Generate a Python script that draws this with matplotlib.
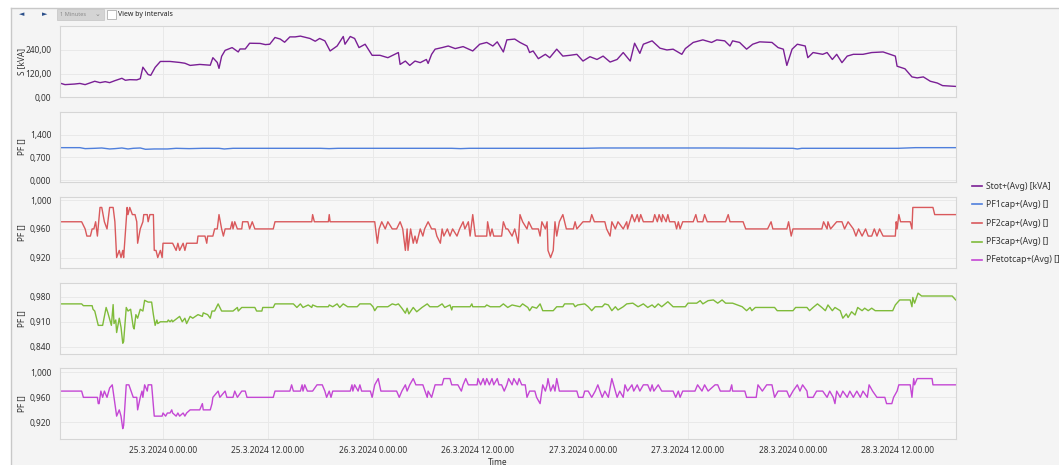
import pandas as pd
import numpy as np
import matplotlib
matplotlib.use("Agg")
import matplotlib.pyplot as plt
import matplotlib.dates as mdates
from matplotlib.ticker import FuncFormatter
from matplotlib.patches import Rectangle
from matplotlib.lines import Line2D

plt.rcParams['font.family'] = ['Noto Sans', 'DejaVu Sans']

# hours since 24.3.2024 12:00
start = pd.Timestamp("2024-03-24 12:00")

s_t = [0.2, 0.8, 1.9, 2.5, 3.1, 4.2, 4.8, 5.4, 5.9, 6.5, 7.3, 7.7, 8.2, 9.0, 9.4, 9.7, 10.3, 10.6,
       11.1, 11.7, 12.8, 13.9, 14.5, 15.1, 16.2, 16.8, 17.4, 17.7, 18.2, 18.4, 18.7, 19.1, 19.9,
       20.6, 20.8, 21.4, 21.9, 23.1, 23.7, 24.2, 24.8, 25.4, 25.9, 26.5, 27.1, 27.7, 28.8, 29.4,
       29.9, 30.5, 31.1, 31.9, 32.6, 32.8, 33.4, 33.9, 34.4, 35.1, 35.9, 36.8, 37.7, 38.9, 39.1,
       39.7, 40.2, 40.8, 41.4, 42.1, 42.3, 42.7, 43.1, 43.9, 44.6, 45.4, 46.3, 47.4, 48.2, 49.0,
       49.7, 50.2, 50.9, 51.3, 52.2, 52.8, 53.6, 53.9, 54.3, 54.9, 55.7, 56.2, 57.0, 57.7, 58.5,
       59.3, 60.0, 60.8, 61.6, 62.3, 63.1, 63.9, 64.6, 65.4, 65.9, 66.5, 66.9, 67.9, 68.8, 69.6,
       70.3, 71.3, 71.7, 72.6, 73.7, 74.7, 75.3, 76.2, 76.8, 77.1, 77.9, 78.7, 79.4, 80.2, 81.6,
       82.3, 82.9, 83.3, 83.9, 84.5, 85.4, 85.7, 86.3, 87.4, 87.9, 88.5, 89.0, 89.6, 90.2, 90.9,
       92.0, 93.0, 94.3, 95.1, 95.7, 95.9, 96.8, 97.6, 98.2, 98.9, 99.7, 100.5, 101.1, 102.6]
s_v = [72, 64, 67, 70, 64, 81, 74, 79, 74, 84, 96, 86, 89, 88, 94, 152, 115, 111,
       151, 181, 181, 176, 172, 161, 166, 164, 162, 200, 176, 146, 207, 237, 251,
       229, 244, 244, 273, 272, 266, 268, 302, 294, 278, 305, 305, 309, 297, 283,
       297, 285, 234, 259, 307, 268, 307, 297, 251, 268, 212, 212, 200, 226, 166,
       183, 161, 183, 175, 191, 171, 217, 243, 251, 259, 246, 256, 234, 268, 277,
       259, 280, 229, 290, 294, 277, 259, 226, 234, 195, 217, 200, 243, 208, 212,
       217, 183, 205, 191, 208, 178, 191, 226, 183, 273, 222, 268, 285, 248, 239,
       243, 217, 246, 277, 290, 277, 290, 285, 259, 285, 277, 243, 268, 280, 277,
       251, 243, 161, 243, 268, 259, 200, 226, 217, 226, 191, 217, 175, 208, 217,
       217, 226, 229, 217, 208, 157, 144, 103, 98, 103, 81, 72, 59, 55]

pf1_t = [0.2, 2.5, 3.1, 4.2, 5.0, 5.9, 6.5, 7.3, 8.0, 8.6, 9.4, 10.0, 11.0, 12.5, 13.5, 15.0,
         16.5, 18.4, 19.0, 20.0, 30.0, 31.0, 32.0, 45.0, 46.0, 47.0, 60.0, 62.0, 75.0, 84.0,
         84.5, 85.0, 96.0, 98.0, 102.6]
pf1_v = [1.0, 1.0, 0.97, 0.98, 0.99, 0.96, 0.97, 0.99, 0.96, 0.98, 0.99, 0.95, 0.96, 0.96,
         0.98, 0.97, 0.98, 0.98, 0.96, 0.98, 0.98, 0.97, 0.98, 0.98, 0.97, 0.98, 0.98, 0.99,
         0.99, 0.98, 0.96, 0.98, 0.98, 1.0, 1.0]

pf2_t = [0.1, 2.7, 3.1, 3.3, 3.7, 3.9, 4.1, 4.3, 4.5, 4.8, 5.0, 5.3, 5.6, 5.9, 6.3, 6.5, 6.7,
         7.0, 7.2, 7.4, 7.5, 7.9, 8.0, 8.2, 8.5, 8.8, 9.0, 9.1, 9.4, 9.7, 9.8, 10.2, 10.3, 10.5,
         10.9, 11.0, 11.2, 11.4, 11.7, 11.9, 12.0, 13.1, 13.5, 13.7, 13.9, 14.3, 14.5, 14.7,
         15.9, 16.0, 16.8, 17.0, 17.1, 17.7, 17.9, 18.2, 18.4, 18.7, 18.9, 19.1, 19.7, 19.9,
         20.0, 20.2, 20.5, 21.0, 21.1, 21.7, 21.9, 22.2, 22.5, 24.6, 24.8, 29.0, 29.1, 29.3,
         30.9, 31.0, 31.1, 36.2, 36.5, 36.7, 37.0, 37.4, 37.7, 38.2, 38.7, 39.1, 39.4, 39.7,
         39.9, 40.0, 40.3, 40.6, 40.8, 41.0, 41.4, 41.7, 41.9, 42.3, 42.7, 43.1, 43.3, 43.7,
         43.9, 44.1, 44.5, 44.8, 45.1, 45.6, 45.9, 46.3, 46.5, 46.9, 47.1, 47.4, 47.7, 49.0,
         49.1, 49.4, 49.6, 49.8, 50.7, 50.9, 51.2, 51.4, 51.9, 52.2, 52.6, 52.8, 53.1, 53.6,
         53.8, 54.2, 54.9, 55.1, 55.3, 55.7, 55.9, 56.0, 56.3, 56.6, 56.8, 57.0, 57.3, 57.7,
         58.1, 58.9, 59.1, 59.3, 60.0, 60.8, 61.0, 61.3, 62.5, 62.7, 63.1, 63.3, 63.7, 64.0,
         64.6, 65.0, 65.1, 65.6, 65.9, 66.2, 66.4, 66.6, 66.9, 68.0, 68.2, 68.5, 68.7, 69.0,
         69.1, 69.5, 69.7, 69.9, 70.5, 70.7, 70.9, 71.1, 71.4, 72.6, 72.9, 73.1, 73.7, 73.9,
         74.2, 76.3, 76.6, 76.8, 78.3, 78.6, 81.1, 81.5, 81.7, 83.3, 83.5, 83.8, 84.0, 87.3,
         87.5, 87.9, 88.0, 88.3, 89.0, 89.6, 89.9, 90.3, 90.9, 91.2, 91.5, 91.9, 92.3, 92.6,
         93.0, 93.3, 93.6, 93.9, 94.3, 95.7, 95.8, 95.9, 96.1, 96.3, 97.4, 97.6, 97.7, 100.0,
         100.2, 102.6]
pf2_v = [0.97, 0.97, 0.96, 0.95, 0.95, 0.96, 0.96, 0.97, 0.95, 0.99, 0.99, 0.97, 0.96, 0.99,
         0.99, 0.97, 0.92, 0.93, 0.92, 0.93, 0.92, 0.99, 0.98, 0.99, 0.98, 0.98, 0.97, 0.94,
         0.96, 0.97, 0.98, 0.98, 0.97, 0.98, 0.98, 0.93, 0.93, 0.92, 0.93, 0.92, 0.94, 0.94,
         0.93, 0.94, 0.93, 0.94, 0.93, 0.94, 0.94, 0.95, 0.95, 0.94, 0.95, 0.95, 0.96, 0.96,
         0.98, 0.96, 0.95, 0.96, 0.96, 0.97, 0.96, 0.97, 0.96, 0.96, 0.97, 0.97, 0.96, 0.97,
         0.96, 0.96, 0.97, 0.97, 0.98, 0.97, 0.97, 0.98, 0.97, 0.97, 0.94, 0.96, 0.97, 0.96,
         0.97, 0.96, 0.96, 0.97, 0.96, 0.93, 0.96, 0.93, 0.96, 0.94, 0.95, 0.94, 0.96, 0.95,
         0.96, 0.97, 0.96, 0.96, 0.95, 0.94, 0.96, 0.95, 0.96, 0.95, 0.96, 0.95, 0.96, 0.97,
         0.96, 0.97, 0.95, 0.98, 0.95, 0.95, 0.97, 0.95, 0.96, 0.95, 0.95, 0.97, 0.96, 0.96,
         0.95, 0.96, 0.94, 0.98, 0.97, 0.96, 0.97, 0.96, 0.96, 0.95, 0.97, 0.96, 0.97, 0.93,
         0.92, 0.93, 0.97, 0.95, 0.97, 0.98, 0.96, 0.96, 0.97, 0.96, 0.97, 0.97, 0.98, 0.97,
         0.97, 0.96, 0.95, 0.97, 0.96, 0.97, 0.96, 0.97, 0.96, 0.98, 0.97, 0.98, 0.97, 0.98,
         0.97, 0.97, 0.98, 0.97, 0.98, 0.97, 0.98, 0.97, 0.98, 0.97, 0.97, 0.96, 0.97, 0.96,
         0.97, 0.97, 0.98, 0.97, 0.97, 0.98, 0.97, 0.97, 0.98, 0.97, 0.97, 0.96, 0.96, 0.97,
         0.96, 0.96, 0.97, 0.95, 0.96, 0.96, 0.97, 0.96, 0.97, 0.96, 0.97, 0.97, 0.96, 0.97,
         0.96, 0.95, 0.96, 0.95, 0.96, 0.95, 0.95, 0.96, 0.95, 0.96, 0.95, 0.95, 0.97, 0.96,
         0.98, 0.97, 0.97, 0.96, 0.99, 0.99, 0.98, 0.98]

pf3_t = [0.1, 2.7, 2.9, 3.9, 4.0, 4.2, 4.6, 5.1, 5.5, 5.7, 6.1, 6.3, 6.4, 6.6, 6.7, 7.0, 7.2,
         7.4, 7.5, 7.8, 8.0, 8.3, 8.6, 8.7, 8.9, 9.1, 9.4, 9.7, 9.9, 10.3, 10.7, 10.9, 11.1,
         11.3, 11.4, 11.7, 12.5, 12.6, 12.8, 13.0, 13.1, 13.9, 14.2, 14.5, 14.7, 15.1, 15.4,
         15.7, 16.0, 16.5, 16.6, 17.1, 17.4, 17.6, 17.9, 18.3, 18.7, 20.0, 20.5, 20.6, 21.0,
         22.5, 22.7, 23.3, 23.4, 24.6, 24.8, 26.9, 27.3, 27.7, 28.0, 28.6, 29.0, 29.1, 29.6,
         30.9, 31.0, 31.4, 31.9, 32.2, 32.6, 33.1, 34.2, 34.5, 35.7, 36.0, 36.2, 36.5, 37.7,
         38.2, 38.6, 38.9, 39.3, 39.7, 39.9, 40.1, 40.6, 41.0, 41.6, 42.2, 42.5, 43.4, 43.9,
         44.2, 44.8, 45.0, 45.1, 47.1, 47.3, 47.4, 48.8, 49.0, 49.4, 50.5, 50.9, 51.4, 51.9,
         52.8, 53.1, 53.7, 53.9, 54.2, 54.7, 55.1, 55.4, 56.6, 57.0, 57.7, 57.9, 58.9, 59.1,
         59.4, 60.2, 60.6, 61.0, 61.4, 62.2, 62.5, 62.9, 63.3, 63.7, 64.0, 64.6, 65.0, 65.7,
         66.3, 66.9, 67.4, 67.9, 68.2, 68.6, 69.0, 69.7, 70.3, 71.7, 72.0, 73.0, 73.4, 73.7,
         74.3, 74.9, 75.4, 75.9, 76.3, 77.1, 78.2, 78.7, 79.1, 79.3, 79.7, 81.9, 82.2, 84.0,
         84.3, 85.6, 85.9, 86.3, 86.8, 87.3, 87.7, 88.0, 88.5, 88.8, 89.4, 89.7, 90.1, 90.3,
         90.7, 91.1, 91.4, 91.9, 92.2, 92.6, 93.0, 93.4, 95.4, 95.7, 96.2, 97.4, 97.6, 97.7,
         97.9, 98.3, 98.7, 102.2, 102.6]
pf3_v = [0.96, 0.96, 0.955, 0.955, 0.945, 0.94, 0.90, 0.90, 0.95, 0.935, 0.90, 0.958, 0.905,
         0.915, 0.88, 0.92, 0.895, 0.85, 0.855, 0.95, 0.94, 0.945, 0.895, 0.89, 0.93, 0.92,
         0.945, 0.94, 0.97, 0.965, 0.965, 0.93, 0.90, 0.915, 0.905, 0.91, 0.91, 0.915, 0.91,
         0.915, 0.91, 0.925, 0.91, 0.92, 0.905, 0.925, 0.92, 0.925, 0.93, 0.925, 0.935, 0.93,
         0.92, 0.94, 0.94, 0.96, 0.94, 0.94, 0.95, 0.94, 0.95, 0.95, 0.94, 0.94, 0.95, 0.95,
         0.96, 0.96, 0.95, 0.96, 0.95, 0.957, 0.95, 0.957, 0.952, 0.952, 0.957, 0.952, 0.96,
         0.95, 0.96, 0.952, 0.952, 0.96, 0.96, 0.952, 0.941, 0.952, 0.952, 0.96, 0.957, 0.96,
         0.948, 0.934, 0.948, 0.932, 0.95, 0.938, 0.95, 0.96, 0.952, 0.952, 0.96, 0.95, 0.957,
         0.943, 0.952, 0.952, 0.96, 0.952, 0.952, 0.957, 0.952, 0.952, 0.96, 0.95, 0.957,
         0.952, 0.96, 0.95, 0.941, 0.952, 0.948, 0.96, 0.941, 0.941, 0.952, 0.952, 0.96, 0.96,
         0.952, 0.957, 0.96, 0.952, 0.941, 0.952, 0.952, 0.96, 0.957, 0.941, 0.952, 0.943,
         0.952, 0.96, 0.962, 0.952, 0.96, 0.95, 0.957, 0.95, 0.96, 0.952, 0.966, 0.952, 0.952,
         0.962, 0.962, 0.969, 0.96, 0.969, 0.971, 0.962, 0.971, 0.962, 0.962, 0.952, 0.941,
         0.95, 0.941, 0.95, 0.95, 0.941, 0.941, 0.95, 0.95, 0.941, 0.95, 0.96, 0.95, 0.941,
         0.957, 0.941, 0.95, 0.941, 0.92, 0.932, 0.922, 0.938, 0.929, 0.95, 0.941, 0.948,
         0.941, 0.948, 0.941, 0.941, 0.957, 0.971, 0.971, 0.952, 0.978, 0.962, 0.99, 0.982,
         0.982, 0.971]

pft_t = [0.1, 2.7, 2.9, 4.5, 4.6, 4.7, 4.9, 5.1, 5.3, 5.6, 5.9, 6.2, 6.4, 6.6, 6.7, 7.0, 7.2,
         7.4, 7.5, 7.8, 8.1, 8.6, 9.0, 9.1, 9.4, 9.6, 9.7, 9.9, 10.2, 10.3, 10.7, 11.0, 11.9,
         12.0, 12.3, 12.5, 12.8, 13.0, 13.1, 13.5, 13.7, 13.9, 14.3, 14.5, 14.7, 15.1, 16.2,
         16.5, 16.6, 17.4, 17.6, 17.7, 18.3, 18.5, 19.1, 19.3, 20.0, 20.2, 20.5, 21.0, 21.4,
         21.6, 24.6, 24.8, 26.5, 26.7, 26.9, 27.7, 27.9, 28.0, 28.2, 28.5, 29.1, 29.6, 30.2,
         30.5, 30.7, 31.0, 31.2, 31.4, 33.4, 33.6, 33.7, 33.9, 34.3, 34.5, 34.7, 35.7, 35.9,
         36.2, 36.6, 36.9, 38.7, 39.0, 39.3, 39.7, 39.9, 40.2, 40.6, 40.9, 41.7, 42.2, 42.3,
         42.7, 43.1, 43.9, 44.1, 44.5, 44.8, 45.0, 45.7, 46.1, 46.3, 46.6, 46.9, 47.9, 48.0,
         48.3, 48.6, 48.8, 49.0, 49.3, 49.6, 49.8, 50.2, 50.4, 50.7, 51.0, 51.3, 51.5, 51.9,
         52.1, 52.5, 52.7, 53.0, 53.4, 53.6, 53.9, 54.5, 54.7, 55.1, 55.3, 55.4, 55.7, 55.9,
         56.0, 56.3, 56.6, 56.8, 57.0, 57.3, 59.3, 59.5, 60.0, 60.2, 60.6, 61.0, 61.4, 61.7,
         62.2, 62.5, 62.9, 63.3, 63.7, 63.9, 64.2, 64.6, 64.8, 65.1, 65.6, 65.8, 66.2, 66.5,
         66.9, 67.4, 67.7, 67.9, 68.1, 68.6, 69.0, 70.3, 70.6, 70.9, 71.1, 71.4, 72.8, 73.1,
         73.6, 73.9, 74.3, 75.1, 75.4, 75.7, 76.8, 77.0, 77.1, 78.5, 78.7, 79.8, 80.0, 80.5,
         81.0, 81.6, 81.9, 82.3, 83.3, 83.6, 84.0, 84.5, 84.8, 85.1, 85.6, 85.7, 86.3, 86.7,
         87.4, 87.9, 88.2, 88.6, 88.8, 89.0, 89.4, 89.7, 90.2, 90.5, 90.9, 91.3, 91.7, 92.0,
         92.5, 92.7, 93.1, 93.6, 94.5, 94.7, 95.3, 95.5, 95.9, 96.1, 97.4, 97.6, 97.8, 97.9,
         98.2, 99.9, 100.0, 102.6]
pft_v = [0.97, 0.97, 0.96, 0.96, 0.95, 0.95, 0.97, 0.96, 0.97, 0.96, 0.975, 0.98, 0.96, 0.94,
         0.93, 0.94, 0.93, 0.91, 0.915, 0.98, 0.98, 0.96, 0.96, 0.94, 0.96, 0.97, 0.96, 0.98,
         0.97, 0.98, 0.98, 0.93, 0.93, 0.935, 0.93, 0.935, 0.935, 0.94, 0.935, 0.93, 0.935,
         0.93, 0.935, 0.93, 0.935, 0.94, 0.94, 0.95, 0.94, 0.94, 0.95, 0.96, 0.97, 0.96, 0.97,
         0.96, 0.96, 0.97, 0.96, 0.97, 0.97, 0.96, 0.96, 0.97, 0.97, 0.98, 0.97, 0.97, 0.98,
         0.97, 0.98, 0.97, 0.97, 0.98, 0.98, 0.97, 0.96, 0.97, 0.96, 0.97, 0.97, 0.98, 0.97,
         0.98, 0.97, 0.98, 0.97, 0.97, 0.96, 0.98, 0.99, 0.97, 0.97, 0.96, 0.97, 0.98, 0.97,
         0.98, 0.99, 0.98, 0.98, 0.96, 0.97, 0.96, 0.98, 0.98, 0.99, 0.99, 0.99, 0.98, 0.98,
         0.97, 0.98, 0.99, 0.98, 0.98, 0.99, 0.98, 0.99, 0.98, 0.99, 0.98, 0.99, 0.98, 0.99,
         0.98, 0.98, 0.97, 0.98, 0.99, 0.98, 0.99, 0.98, 0.99, 0.98, 0.98, 0.96, 0.97, 0.97,
         0.96, 0.95, 0.97, 0.98, 0.97, 0.98, 0.99, 0.97, 0.98, 0.97, 0.99, 0.97, 0.97, 0.96,
         0.96, 0.97, 0.97, 0.96, 0.97, 0.98, 0.96, 0.97, 0.96, 0.99, 0.97, 0.96, 0.97, 0.96,
         0.98, 0.97, 0.98, 0.97, 0.98, 0.97, 0.98, 0.98, 0.97, 0.98, 0.97, 0.98, 0.97, 0.97,
         0.96, 0.97, 0.96, 0.97, 0.97, 0.98, 0.97, 0.98, 0.97, 0.98, 0.98, 0.97, 0.97, 0.98,
         0.97, 0.97, 0.96, 0.96, 0.98, 0.97, 0.98, 0.98, 0.96, 0.97, 0.97, 0.96, 0.97, 0.98,
         0.97, 0.98, 0.97, 0.96, 0.96, 0.97, 0.97, 0.96, 0.97, 0.96, 0.95, 0.97, 0.96, 0.97,
         0.96, 0.97, 0.96, 0.97, 0.96, 0.97, 0.96, 0.98, 0.97, 0.96, 0.96, 0.95, 0.95, 0.96,
         0.97, 0.98, 0.98, 0.96, 0.99, 0.98, 0.99, 0.99, 0.98, 0.98]

series = [
    ("Stot+(Avg) [kVA]", s_t, s_v, "#7a1f95", "S [kVA]", (0, 360), [0, 120, 240], "{:.2f}"),
    ("PF1cap+(Avg) []", pf1_t, pf1_v, "#4f7fdc", "PF []", (-0.06, 2.1), [0.0, 0.7, 1.4], "{:.3f}"),
    ("PF2cap+(Avg) []", pf2_t, pf2_v, "#d9595c", "PF []", (0.905, 1.005), [0.92, 0.96, 1.0], "{:.3f}"),
    ("PF3cap+(Avg) []", pf3_t, pf3_v, "#7fbb3a", "PF []", (0.82, 1.0175), [0.84, 0.91, 0.98], "{:.3f}"),
    ("PFetotcap+(Avg) []", pft_t, pft_v, "#c447d4", "PF []", (0.893, 1.0064), [0.92, 0.96, 1.0], "{:.3f}"),
]

W, H = 1059, 465
fig = plt.figure(figsize=(W / 100, H / 100), dpi=100)
fig.patch.set_facecolor("#f4f4f4")

# window frame: white strip on top and left, thin grey border
fig.add_artist(Rectangle((0, 1 - 8 / H), 1, 8 / H, transform=fig.transFigure,
                         facecolor="white", edgecolor="none"))
fig.add_artist(Rectangle((0, 0), 11 / W, 1, transform=fig.transFigure,
                         facecolor="white", edgecolor="none"))
fig.add_artist(Line2D([11 / W, 1], [1 - 8 / H] * 2, transform=fig.transFigure,
                      color="#c8c8c8", lw=1))
fig.add_artist(Line2D([11 / W] * 2, [0, 1 - 8 / H], transform=fig.transFigure,
                      color="#c8c8c8", lw=1))

# toolbar
fig.text(22 / W, 1 - 14.5 / H, "◄", fontsize=5, color="#2b4f8a", ha="center", va="center")
fig.text(45 / W, 1 - 14.5 / H, "►", fontsize=5, color="#2b4f8a", ha="center", va="center")
fig.add_artist(Rectangle((57 / W, 1 - 20 / H), 47 / W, 11 / H, transform=fig.transFigure,
                         facecolor="#d4d4d4", edgecolor="#c4c4c4", lw=0.5))
fig.text(60 / W, 1 - 14.5 / H, "1 Minutes", fontsize=4, color="#8a8a8a", va="center")
fig.text(97 / W, 1 - 14.5 / H, "⌄", fontsize=5, color="#8a8a8a", ha="center", va="center")
fig.add_artist(Rectangle((107 / W, 1 - 19 / H), 9 / W, 9 / H, transform=fig.transFigure,
                         facecolor="white", edgecolor="#b0b0b0", lw=0.6))
fig.text(118 / W, 1 - 14.5 / H, "View by intervals", fontsize=5, color="#222222", va="center")

# panel geometry in pixels (top, bottom)
rows = [(26, 97.3), (111.7, 182.3), (196.7, 268.3), (283.3, 354), (368.3, 439.3)]
left_px, right_px = 59.5, 955.7

x0 = start + pd.Timedelta(hours=0.17)
x1 = start + pd.Timedelta(hours=102.6)


def fmt_date(x, pos):
    d = mdates.num2date(x)
    return f"{d.day}.{d.month}.{d.year} {d.hour}.{d.minute:02d}.{d.second:02d}"


axes = []
for (name, t, v, color, ylab, ylim, yticks, yfmt), (top, bot) in zip(series, rows):
    ax = fig.add_axes([left_px / W, 1 - bot / H, (right_px - left_px) / W, (bot - top) / H])
    ax.set_facecolor("#f7f7f7")
    times = start + pd.to_timedelta(np.array(t), unit="h")
    ax.plot(times, v, color=color, lw=1.0)
    ax.set_xlim(x0, x1)
    ax.set_ylim(*ylim)
    ax.set_yticks(yticks)
    ax.yaxis.set_major_formatter(FuncFormatter(lambda y, p, f=yfmt: f.format(y).replace(".", ",")))
    ax.xaxis.set_major_locator(mdates.HourLocator(byhour=[0, 12]))
    ax.xaxis.set_major_formatter(FuncFormatter(fmt_date))
    ax.grid(True, color="#e9e9e9", lw=0.7)
    ax.set_axisbelow(True)
    for sp in ax.spines.values():
        sp.set_color("#d6d6d6")
        sp.set_linewidth(0.8)
    ax.tick_params(length=0, labelsize=6, colors="#333333", pad=6)
    ax.set_ylabel(ylab, fontsize=6, color="#333333")
    ax.yaxis.set_label_coords(-33 / (right_px - left_px), 0.5)
    if top < 360:
        ax.tick_params(labelbottom=False)
    axes.append(ax)

axes[-1].tick_params(axis="x", pad=5)
fig.text(498 / W, 1 - 462 / H, "Time", fontsize=6, color="#333333", ha="center", va="center")

# legend on the right
for i, (name, t, v, color, *_rest) in enumerate(series):
    yy = 1 - (186 + i * 18.5) / H
    fig.add_artist(Line2D([972 / W, 982 / W], [yy, yy], transform=fig.transFigure,
                          color=color, lw=1.2))
    fig.text(986 / W, yy, name, fontsize=6.2, color="#333333", va="center")

fig.savefig("out.png", dpi=100, facecolor=fig.get_facecolor())
